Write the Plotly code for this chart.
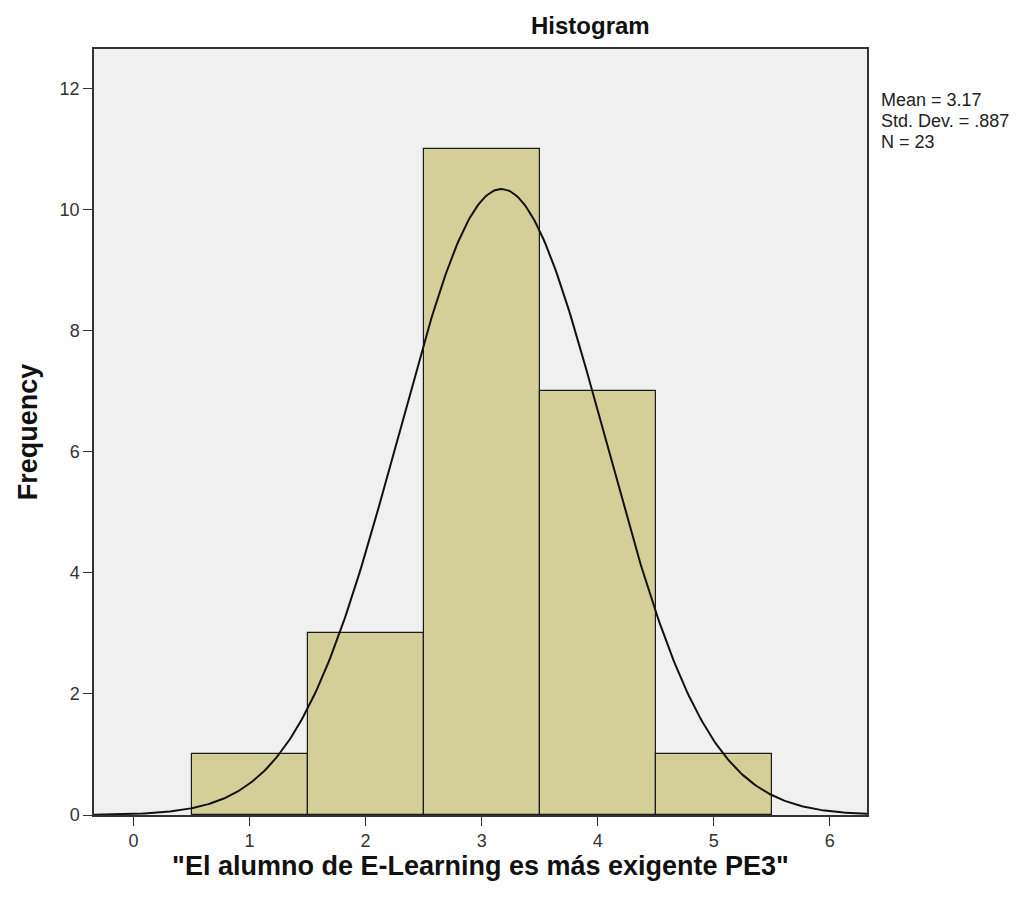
import numpy as np
import plotly.graph_objects as go

categories = [1, 2, 3, 4, 5]
frequencies = [1, 3, 11, 7, 1]
mean_val = 3.17
std_val = 0.887
n_val = 23
x_ticks = [0, 1, 2, 3, 4, 5, 6]
y_ticks = [0, 2, 4, 6, 8, 10, 12]
stats_lines = ["Mean = 3.17", "Std. Dev. = .887", "N = 23"]

W, H = 1028, 901
L, R, T, B = 86, 169, 41, 94
pw, ph = W - L - R, H - T - B

fig = go.Figure()
fig.add_trace(go.Bar(
    x=categories, y=frequencies, width=1.0,
    marker=dict(color="#D4CF98", line=dict(color="#1a1a1a", width=1.2)),
    showlegend=False, hoverinfo="skip"))

xs = np.linspace(-0.34, 6.32, 400)
ys = n_val * 1.0 / (std_val * np.sqrt(2 * np.pi)) * np.exp(-0.5 * ((xs - mean_val) / std_val) ** 2)
fig.add_trace(go.Scatter(x=xs, y=ys, mode="lines",
                         line=dict(color="#111111", width=2), showlegend=False, hoverinfo="skip"))

annotations = [
    dict(text="<b>Histogram</b>", x=(590 - 94) / pw, y=1 + (49 - 25) / ph,
         xref="paper", yref="paper", xanchor="center", yanchor="middle",
         showarrow=False, font=dict(size=24, color="#111111")),
]
for i, line in enumerate(stats_lines):
    annotations.append(dict(
        text=line, x=1 + (879 - 867) / pw, y=1 - (100 + 21 * i - 49) / ph,
        xref="paper", yref="paper", xanchor="left", yanchor="middle", align="left",
        showarrow=False, font=dict(size=18, color="#222222")))

fig.update_layout(
    width=W, height=H,
    margin=dict(l=L, r=R, t=T, b=B),
    paper_bgcolor="white", plot_bgcolor="#F0F0F0",
    font=dict(family="Arial, Liberation Sans, sans-serif", color="#222222"),
    bargap=0,
    annotations=annotations,
)

fig.update_xaxes(range=[-0.34, 6.32], tickvals=x_ticks, ticks="outside", ticklen=9,
                 tickcolor="#333333", showgrid=False, zeroline=False,
                 showline=True, linecolor="#333333", linewidth=1.5, mirror=True,
                 tickfont=dict(size=18, color="#333333"),
                 title=dict(text="<b>\"El alumno de E-Learning es más exigente PE3\"</b>",
                            font=dict(size=27, color="#111111"), standoff=3))
fig.update_yaxes(range=[0, 12.66], tickvals=y_ticks, ticks="outside", ticklen=9,
                 tickcolor="#333333", showgrid=False, zeroline=False,
                 showline=True, linecolor="#333333", linewidth=1.5, mirror=True,
                 tickfont=dict(size=18, color="#333333"),
                 title=dict(text="<b>Frequency</b>", font=dict(size=27, color="#111111"), standoff=14))

fig.write_html("out.html")
